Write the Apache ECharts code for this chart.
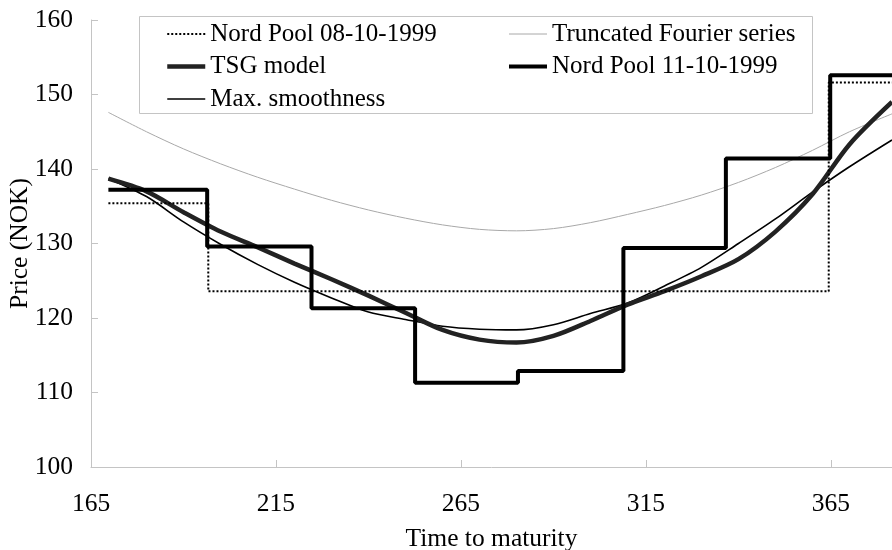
<!DOCTYPE html>
<html>
<head>
<meta charset="utf-8">
<script src="https://cdn.jsdelivr.net/npm/echarts@6/dist/echarts.min.js"></script>
<style>
  html, body { margin: 0; padding: 0; background: #fff; }
  #chart { width: 892px; height: 550px; }
</style>
</head>
<body>
<div id="chart"></div>
<script>
// step series: [time to maturity, price] at the start of each contract
const nordPool0810 = [[169.7, 135.4], [196.7, 123.6], [364.4, 151.6], [381.5, 151.6]];
const nordPool1110 = [[169.7, 137.2], [196.4, 129.6], [224.6, 121.3], [252.6, 111.3],
  [280.4, 112.9], [308.9, 129.4], [336.6, 141.4], [364.8, 152.6], [381.5, 152.6]];

// smooth curves sampled along time to maturity
const curveX = [169.7, 180, 190, 200, 210, 220, 230, 240, 250, 260, 270, 280,
  290, 300, 310, 320, 330, 340, 350, 360, 370, 381.5];
const tsgModel = [138.7, 137.0, 134.2, 131.6, 129.5, 127.3, 125.2, 123.0, 120.7, 118.4, 117.1, 116.7,
  117.6, 119.6, 121.8, 123.6, 125.6, 127.9, 131.6, 136.6, 143.3, 149.0];
const maxSmooth = [138.7, 136.3, 132.9, 129.9, 127.2, 124.8, 122.7, 120.8, 119.8, 118.9, 118.5, 118.4,
  119.1, 120.6, 122.0, 124.3, 126.8, 130.0, 133.3, 136.9, 140.3, 143.9];
const fourier = [147.6, 145.0, 142.7, 140.7, 138.9, 137.3, 135.8, 134.5, 133.4, 132.5, 131.9, 131.7,
  132.0, 132.8, 133.9, 135.1, 136.5, 138.2, 140.2, 142.5, 145.0, 147.4];

const legendLeft = ['Nord Pool 08-10-1999', 'TSG model', 'Max. smoothness'];
const legendRight = ['Truncated Fourier series', 'Nord Pool 11-10-1999'];

const FONT = 'Liberation Serif';
const pair = (ys) => curveX.map((x, i) => [x, ys[i]]);

const chart = echarts.init(document.getElementById('chart'), null, { renderer: 'canvas' });

const legendBase = {
  orient: 'vertical',
  top: 21.5,
  padding: 0,
  itemWidth: 38,
  itemHeight: 14,
  itemGap: 7.5,
  itemStyle: { opacity: 0 },
  lineStyle: { width: 'inherit' },
  textStyle: { fontFamily: FONT, fontSize: 25, color: '#000' },
};
const axisText = { fontFamily: FONT, fontSize: 25.5, color: '#000' };

chart.setOption({
  animation: false,
  backgroundColor: '#fff',
  grid: { left: 91, right: 0, top: 20, bottom: 83, outerBoundsMode: 'none', containLabel: false },
  legend: [
    Object.assign({}, legendBase, { left: 165, data: legendLeft }),
    Object.assign({}, legendBase, { left: 507, data: legendRight }),
  ],
  graphic: [{
    type: 'rect',
    shape: { x: 139.5, y: 16.5, width: 673, height: 97 },
    style: { fill: 'transparent', stroke: '#c4c4c4', lineWidth: 1 },
    z: 10,
  }],
  xAxis: {
    type: 'value',
    min: 165,
    max: 381.5,
    interval: 50,
    name: 'Time to maturity',
    nameLocation: 'middle',
    nameGap: 59,
    nameMoveOverlap: false,
    nameTextStyle: axisText,
    axisLine: { lineStyle: { color: '#c4c4c4', width: 1 } },
    axisTick: { inside: true, length: 7, lineStyle: { color: '#c4c4c4' } },
    axisLabel: Object.assign({ showMaxLabel: false, margin: 24 }, axisText),
    splitLine: { show: false },
  },
  yAxis: {
    type: 'value',
    min: 100,
    max: 160,
    interval: 10,
    name: 'Price (NOK)',
    nameLocation: 'middle',
    nameGap: 58,
    nameMoveOverlap: false,
    nameTextStyle: axisText,
    axisLine: { show: true, lineStyle: { color: '#c4c4c4', width: 1 } },
    axisTick: { show: true, inside: true, length: 7, lineStyle: { color: '#c4c4c4' } },
    axisLabel: Object.assign({ margin: 18 }, axisText),
    splitLine: { show: false },
  },
  series: [
    {
      name: 'Truncated Fourier series',
      type: 'line',
      data: pair(fourier),
      smooth: 0.3,
      symbol: 'none',
      lineStyle: { color: '#a8a8a8', width: 1 },
      itemStyle: { color: '#a8a8a8' },
    },
    {
      name: 'Max. smoothness',
      type: 'line',
      data: pair(maxSmooth),
      smooth: 0.3,
      symbol: 'none',
      lineStyle: { color: '#000', width: 1.6 },
      itemStyle: { color: '#000' },
    },
    {
      name: 'TSG model',
      type: 'line',
      data: pair(tsgModel),
      smooth: 0.3,
      symbol: 'none',
      lineStyle: { color: '#222', width: 4.5 },
      itemStyle: { color: '#222' },
    },
    {
      name: 'Nord Pool 08-10-1999',
      type: 'line',
      step: 'end',
      data: nordPool0810,
      symbol: 'none',
      lineStyle: { color: '#000', width: 2, type: [2, 2] },
      itemStyle: { color: '#000' },
    },
    {
      name: 'Nord Pool 11-10-1999',
      type: 'line',
      step: 'end',
      data: nordPool1110,
      symbol: 'none',
      lineStyle: { color: '#000', width: 4 },
      itemStyle: { color: '#000' },
    },
  ],
});
</script>
</body>
</html>
